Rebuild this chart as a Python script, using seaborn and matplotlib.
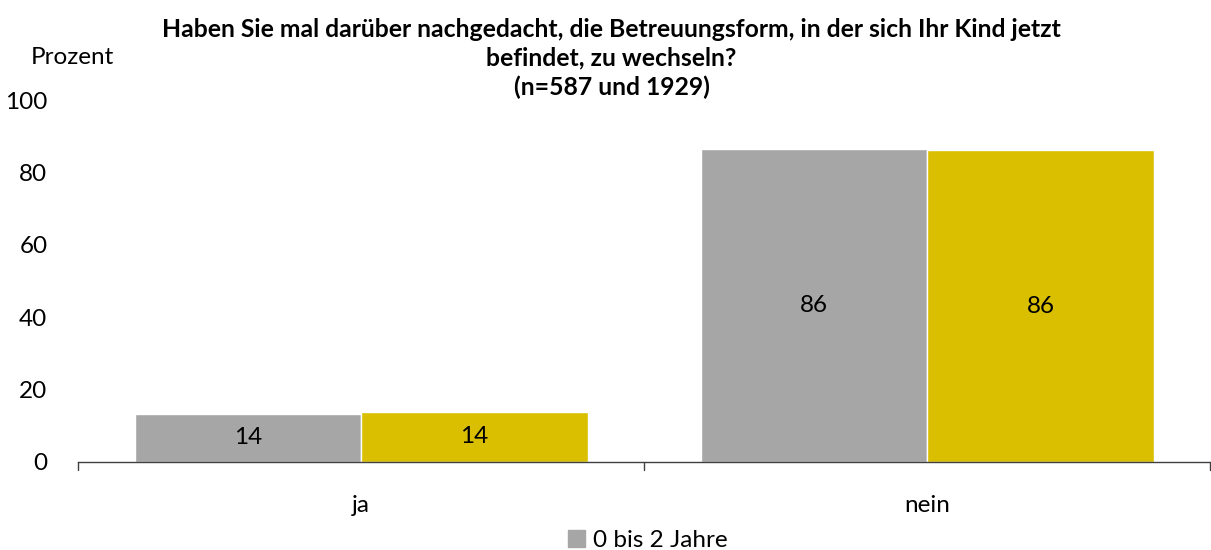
import matplotlib
matplotlib.use("Agg")
import matplotlib.pyplot as plt
import pandas as pd
import seaborn as sns

categories = ["ja", "nein"]
groups = ["0 bis 2 Jahre", "3 bis 6 Jahre"]
values_0_2 = [13.4, 86.6]
values_3_6 = [13.9, 86.1]
bar_labels = [["14", "86"], ["14", "86"]]
colors = ["#A6A6A6", "#D9BF00"]

data = pd.DataFrame({
    "Antwort": categories * 2,
    "Gruppe": [groups[0]] * 2 + [groups[1]] * 2,
    "Prozent": values_0_2 + values_3_6,
})

sns.set_style("white")
plt.rcParams["font.family"] = ["Lato", "DejaVu Sans"]
plt.rcParams["text.color"] = "black"
plt.rcParams["xtick.color"] = "black"
plt.rcParams["ytick.color"] = "black"

fig = plt.figure(figsize=(12.11, 5.5), dpi=100)
ax = fig.add_axes([0.0644, 0.16, 0.935, 0.658])

sns.barplot(data=data, x="Antwort", y="Prozent", hue="Gruppe",
            palette=colors, width=0.8, saturation=1, ax=ax, legend=False)

for cont, labels in zip(ax.containers, bar_labels):
    ax.bar_label(cont, labels=labels, label_type="center", fontsize=17.5)

ax.set_xlim(-0.5, 1.5)
ax.set_ylim(0, 100)
ax.set_yticks([0, 20, 40, 60, 80, 100])
ax.tick_params(axis="y", labelsize=17.5, length=0, pad=22)
ax.tick_params(axis="x", labelsize=17.5, length=0, pad=24)
ax.set_xlabel("")
ax.set_ylabel("")
for side in ["top", "right", "left"]:
    ax.spines[side].set_visible(False)
ax.spines["bottom"].set_color("#404040")
ax.spines["bottom"].set_linewidth(1)

# category boundary ticks on the x axis
for xb in [-0.5, 0.5, 1.5]:
    ax.plot([xb, xb], [0, -2.2], color="#404040", lw=1, clip_on=False)

fig.text(0.505, 0.967,
         "Haben Sie mal darüber nachgedacht, die Betreuungsform, in der sich Ihr Kind jetzt\n"
         "befindet, zu wechseln?\n(n=587 und 1929)",
         ha="center", va="top", fontsize=17.8, fontweight="bold", linespacing=1.3)
fig.text(0.025, 0.895, "Prozent", ha="left", va="center", fontsize=17.5)

handle = plt.Rectangle((0, 0), 1, 1, color=colors[0])
fig.legend([handle], [groups[0]], loc="center", bbox_to_anchor=(0.535, 0.018),
           frameon=False, fontsize=17.5, handlelength=0.7, handleheight=0.7,
           handletextpad=0.3)

fig.savefig("out.png", dpi=100)
